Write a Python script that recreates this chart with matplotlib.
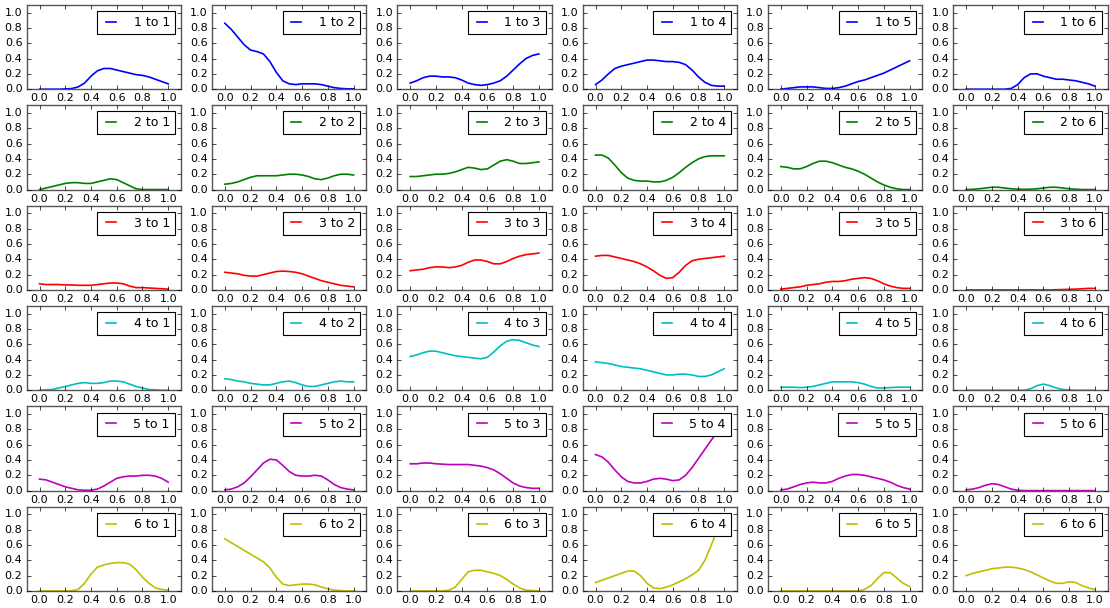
import numpy as np
import matplotlib
matplotlib.use("Agg")
import matplotlib.pyplot as plt

# sample positions shared by every curve
x = np.linspace(0.0, 1.0, 21)

# one list of six curves per source state: from_k[j] is "k to j+1"
from_1 = [
    [0, 0, 0, 0, 0.003, 0.008, 0.03, 0.08, 0.17, 0.24, 0.27, 0.27, 0.25, 0.23, 0.21, 0.19, 0.18, 0.16, 0.13, 0.10, 0.07],
    [0.86, 0.78, 0.68, 0.58, 0.51, 0.49, 0.46, 0.36, 0.22, 0.11, 0.07, 0.06, 0.07, 0.07, 0.07, 0.06, 0.04, 0.02, 0.01, 0.005, 0.005],
    [0.08, 0.11, 0.15, 0.17, 0.17, 0.16, 0.16, 0.15, 0.12, 0.08, 0.06, 0.05, 0.06, 0.08, 0.11, 0.17, 0.25, 0.33, 0.40, 0.44, 0.46],
    [0.06, 0.12, 0.20, 0.27, 0.30, 0.32, 0.34, 0.36, 0.38, 0.38, 0.37, 0.36, 0.36, 0.35, 0.32, 0.25, 0.16, 0.09, 0.05, 0.04, 0.04],
    [0.0, 0.01, 0.02, 0.03, 0.03, 0.03, 0.02, 0.01, 0.01, 0.02, 0.04, 0.07, 0.10, 0.12, 0.15, 0.18, 0.21, 0.25, 0.29, 0.33, 0.37],
    [0, 0, 0, 0, 0, 0, 0, 0.01, 0.06, 0.15, 0.20, 0.20, 0.17, 0.15, 0.13, 0.13, 0.12, 0.11, 0.09, 0.07, 0.04],
]
from_2 = [
    [0.0, 0.02, 0.04, 0.06, 0.08, 0.09, 0.09, 0.08, 0.08, 0.10, 0.12, 0.14, 0.13, 0.09, 0.05, 0.01, 0, 0, 0, 0, 0],
    [0.07, 0.08, 0.10, 0.13, 0.16, 0.18, 0.18, 0.18, 0.18, 0.19, 0.20, 0.20, 0.19, 0.17, 0.14, 0.13, 0.15, 0.18, 0.20, 0.20, 0.19],
    [0.17, 0.17, 0.18, 0.19, 0.20, 0.20, 0.21, 0.23, 0.26, 0.29, 0.28, 0.26, 0.27, 0.32, 0.37, 0.39, 0.37, 0.34, 0.34, 0.35, 0.36],
    [0.45, 0.45, 0.41, 0.32, 0.22, 0.15, 0.12, 0.11, 0.11, 0.10, 0.10, 0.12, 0.16, 0.22, 0.29, 0.35, 0.40, 0.43, 0.44, 0.44, 0.44],
    [0.30, 0.29, 0.27, 0.27, 0.30, 0.34, 0.37, 0.37, 0.35, 0.32, 0.29, 0.27, 0.24, 0.20, 0.15, 0.10, 0.06, 0.03, 0.01, 0.0, 0.0],
    [0, 0.003, 0.01, 0.02, 0.03, 0.03, 0.02, 0.01, 0.005, 0.003, 0.005, 0.01, 0.02, 0.03, 0.03, 0.02, 0.01, 0.005, 0, 0, 0],
]
from_3 = [
    [0.08, 0.07, 0.07, 0.07, 0.065, 0.065, 0.06, 0.06, 0.06, 0.07, 0.08, 0.09, 0.09, 0.08, 0.05, 0.03, 0.03, 0.025, 0.02, 0.015, 0.01],
    [0.23, 0.22, 0.21, 0.19, 0.18, 0.18, 0.20, 0.22, 0.24, 0.245, 0.24, 0.23, 0.21, 0.18, 0.15, 0.12, 0.10, 0.08, 0.06, 0.05, 0.04],
    [0.25, 0.26, 0.27, 0.29, 0.30, 0.30, 0.29, 0.30, 0.32, 0.36, 0.39, 0.39, 0.37, 0.34, 0.34, 0.37, 0.41, 0.44, 0.46, 0.47, 0.48],
    [0.44, 0.45, 0.45, 0.43, 0.41, 0.39, 0.37, 0.34, 0.30, 0.25, 0.19, 0.15, 0.16, 0.23, 0.32, 0.38, 0.40, 0.41, 0.42, 0.43, 0.44],
    [0.01, 0.02, 0.03, 0.04, 0.06, 0.07, 0.08, 0.10, 0.11, 0.11, 0.12, 0.14, 0.15, 0.16, 0.15, 0.12, 0.08, 0.05, 0.03, 0.02, 0.02],
    [0, 0, 0, 0, 0, 0, 0, 0, 0, 0, 0, 0, 0, 0, 0.003, 0.005, 0.008, 0.01, 0.015, 0.02, 0.02],
]
from_4 = [
    [0, 0.005, 0.01, 0.03, 0.05, 0.07, 0.09, 0.10, 0.09, 0.09, 0.10, 0.12, 0.12, 0.11, 0.08, 0.05, 0.03, 0.01, 0.005, 0, 0],
    [0.15, 0.14, 0.12, 0.11, 0.09, 0.08, 0.07, 0.07, 0.09, 0.11, 0.12, 0.10, 0.07, 0.05, 0.05, 0.07, 0.09, 0.11, 0.12, 0.11, 0.11],
    [0.44, 0.46, 0.49, 0.51, 0.51, 0.49, 0.47, 0.45, 0.44, 0.43, 0.42, 0.41, 0.43, 0.50, 0.58, 0.64, 0.66, 0.65, 0.62, 0.59, 0.57],
    [0.37, 0.36, 0.35, 0.33, 0.31, 0.30, 0.29, 0.28, 0.26, 0.24, 0.22, 0.20, 0.20, 0.21, 0.21, 0.20, 0.18, 0.18, 0.20, 0.24, 0.28],
    [0.04, 0.04, 0.04, 0.035, 0.04, 0.05, 0.07, 0.09, 0.11, 0.11, 0.11, 0.11, 0.10, 0.08, 0.05, 0.03, 0.03, 0.035, 0.04, 0.04, 0.04],
    [0, 0, 0, 0, 0, 0, 0, 0, 0, 0, 0.02, 0.06, 0.08, 0.06, 0.03, 0.01, 0.005, 0, 0, 0, 0],
]
from_5 = [
    [0.15, 0.14, 0.11, 0.08, 0.05, 0.03, 0.01, 0.005, 0.005, 0.02, 0.06, 0.11, 0.16, 0.18, 0.19, 0.19, 0.20, 0.20, 0.19, 0.16, 0.11],
    [0.01, 0.02, 0.05, 0.10, 0.18, 0.27, 0.36, 0.41, 0.40, 0.33, 0.25, 0.20, 0.19, 0.19, 0.20, 0.19, 0.14, 0.08, 0.04, 0.02, 0.01],
    [0.35, 0.35, 0.36, 0.36, 0.35, 0.345, 0.34, 0.34, 0.34, 0.34, 0.33, 0.32, 0.30, 0.27, 0.22, 0.16, 0.10, 0.06, 0.04, 0.03, 0.03],
    [0.47, 0.44, 0.37, 0.27, 0.18, 0.12, 0.10, 0.10, 0.12, 0.15, 0.16, 0.15, 0.13, 0.14, 0.20, 0.30, 0.42, 0.54, 0.66, 0.77, 0.88],
    [0.01, 0.02, 0.05, 0.08, 0.10, 0.11, 0.10, 0.10, 0.12, 0.16, 0.19, 0.21, 0.21, 0.20, 0.18, 0.16, 0.14, 0.11, 0.07, 0.04, 0.02],
    [0.01, 0.02, 0.04, 0.07, 0.09, 0.08, 0.05, 0.02, 0.005, 0, 0, 0, 0, 0, 0, 0, 0, 0, 0, 0, 0],
]
from_6 = [
    [0, 0, 0, 0, 0, 0.003, 0.02, 0.10, 0.22, 0.31, 0.34, 0.36, 0.37, 0.37, 0.35, 0.28, 0.18, 0.10, 0.04, 0.02, 0.01],
    [0.68, 0.63, 0.58, 0.53, 0.48, 0.43, 0.38, 0.30, 0.18, 0.09, 0.07, 0.08, 0.09, 0.09, 0.08, 0.05, 0.03, 0.01, 0.005, 0, 0],
    [0, 0, 0, 0, 0, 0, 0.01, 0.05, 0.15, 0.25, 0.27, 0.27, 0.25, 0.23, 0.20, 0.15, 0.09, 0.04, 0.01, 0.005, 0],
    [0.11, 0.14, 0.17, 0.20, 0.23, 0.26, 0.26, 0.20, 0.10, 0.04, 0.03, 0.05, 0.08, 0.12, 0.16, 0.21, 0.27, 0.40, 0.60, 0.82, 1.0],
    [0, 0, 0, 0, 0, 0, 0, 0, 0, 0, 0, 0, 0, 0.02, 0.07, 0.16, 0.24, 0.24, 0.17, 0.10, 0.06],
    [0.20, 0.23, 0.25, 0.27, 0.29, 0.30, 0.31, 0.31, 0.30, 0.28, 0.25, 0.21, 0.17, 0.13, 0.10, 0.10, 0.12, 0.11, 0.07, 0.04, 0.02],
]

sources = [from_1, from_2, from_3, from_4, from_5, from_6]
colors = ['b', 'g', 'r', 'c', 'm', 'y']
xticks = [0.0, 0.2, 0.4, 0.6, 0.8, 1.0]
yticks = [0.0, 0.2, 0.4, 0.6, 0.8, 1.0]

plt.style.use('classic')
plt.rcParams['font.family'] = ['DejaVu Sans']

fig, axes = plt.subplots(6, 6, figsize=(11.1, 6.08), dpi=100)
fig.patch.set_facecolor('white')
fig.subplots_adjust(left=0.024, right=0.998, top=0.992, bottom=0.028,
                    wspace=0.2, hspace=0.19)

for i, rows in enumerate(sources):
    for j, y in enumerate(rows):
        ax = axes[i, j]
        ax.plot(x, y, color=colors[i], lw=1.2, label='%d to %d' % (i + 1, j + 1))
        ax.set_xlim(-0.1, 1.1)
        ax.set_ylim(0, 1.1)
        ax.set_xticks(xticks)
        ax.set_yticks(yticks)
        ax.tick_params(labelsize=8, length=3, pad=3)
        for s in ax.spines.values():
            s.set_edgecolor('#555555')
        leg = ax.legend(loc='upper right', fontsize=9, handlelength=1.4,
                        handletextpad=1.1, borderpad=0.4, borderaxespad=0.5)
        leg.get_frame().set_linewidth(0.8)

fig.savefig('out.png', dpi=100, facecolor='white')
